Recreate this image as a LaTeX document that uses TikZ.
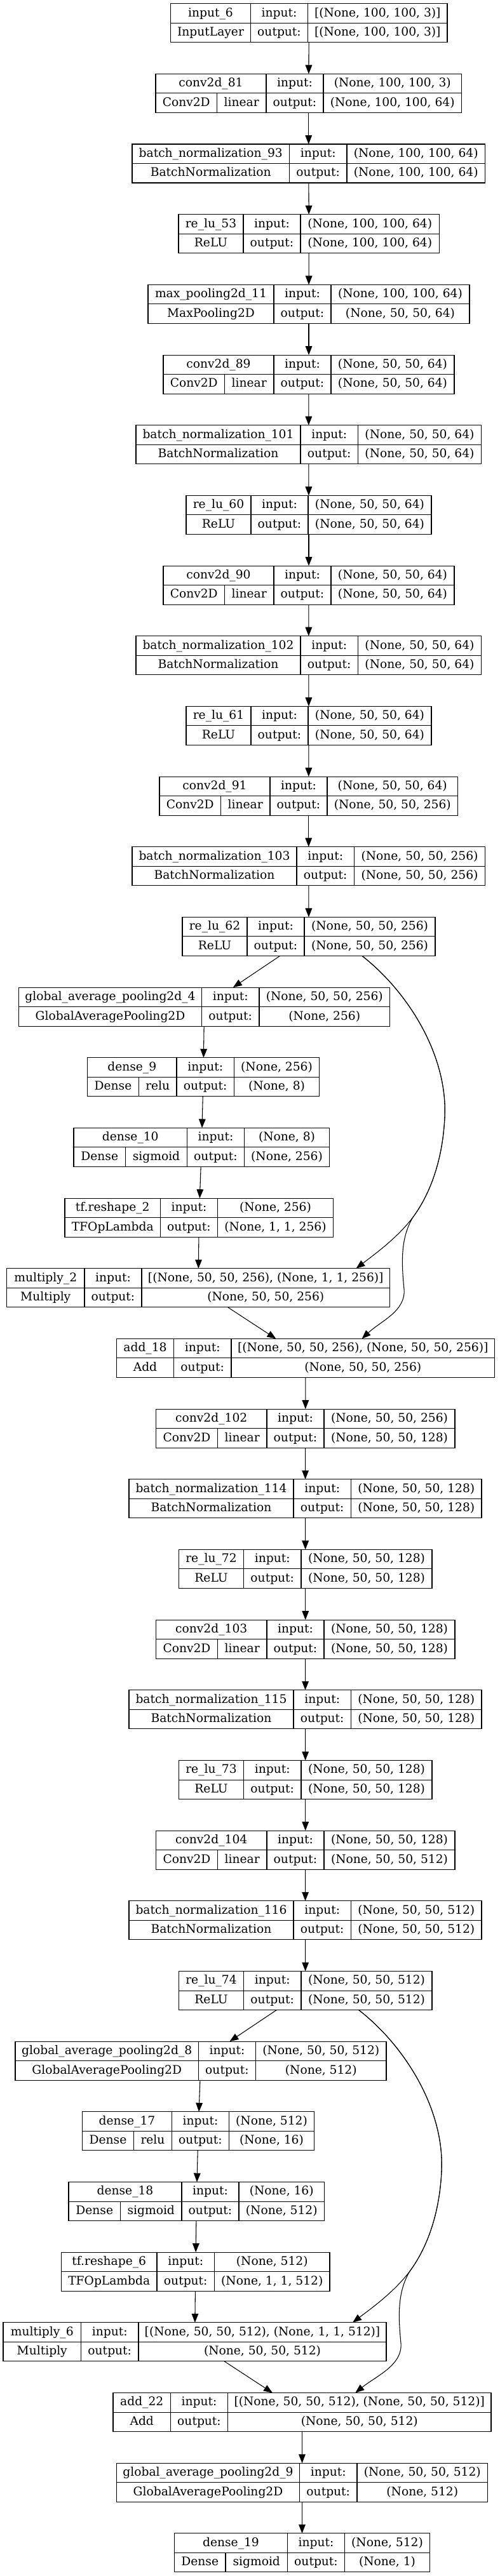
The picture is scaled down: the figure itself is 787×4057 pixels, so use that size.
\documentclass[tikz,border=0pt]{standalone}
\usepackage{fontspec}
\setmainfont{DejaVu Serif}
\usetikzlibrary{arrows.meta}

\tikzset{
  box/.style={draw, rectangle, inner sep=0pt, outer sep=0pt, minimum height=45.75pt},
  txt/.style={inner sep=0pt, text height=10.5pt, text depth=2.8pt, font=\fontsize{14}{16}\selectfont},
  link/.style={-{Triangle[length=10.5pt, width=8pt]}},
}

% #1 node, #2 top, #3 left, #4 first bar, #5 second bar, #6 right,
% #7 layer name, #8 layer class, #9 input shape; the output shape follows
\newcommand{\layerbox}[9]{%
  \node[box, minimum width={(#6-#3)*0.75pt}] (#1) at ({(#3+#6)/2},{#2+30.5}) {};
  \draw (#3,{#2+30.5}) -- (#6,{#2+30.5});
  \draw (#4,#2) -- (#4,{#2+61}) (#5,#2) -- (#5,{#2+61});
  \node[txt] (#1-name) at ({(#3+#4)/2},{#2+15.25}) {#7};
  \if\relax\detokenize{#8}\relax\else
    \node[txt] (#1-class) at ({(#3+#4)/2},{#2+45.75}) {#8};
  \fi
  \node[txt] (#1-in) at ({(#4+#5)/2},{#2+15.25}) {input:};
  \node[txt] (#1-out) at ({(#4+#5)/2},{#2+45.75}) {output:};
  \node[txt] (#1-inshape) at ({(#5+#6)/2},{#2+15.25}) {#9};
  \layerout{#1}{(#5+#6)/2}{#2+45.75}}
\newcommand{\layerout}[4]{\node[txt] (#1-outshape) at ({#2},{#3}) {#4};}
% class cell split in two: #4 split, #5 first bar, #6 class, #7 activation
\newcommand{\layeract}[7]{%
  \draw (#4,{#2+30.5}) -- (#4,{#2+61});
  \node[txt] (#1-class) at ({(#3+#4)/2},{#2+45.75}) {#6};
  \node[txt] (#1-act) at ({(#4+#5)/2},{#2+45.75}) {#7};}

\begin{document}
\begin{tikzpicture}[x=0.75pt, y=-0.75pt, line width=0.8pt]
  \path[use as bounding box, fill=white] (0,0) rectangle (787,4057);
  % Stem
  \layerbox{in6}{5.7}{268.5}{394.5}{484.5}{704}{input\_6}{InputLayer}{[(None, 100, 100, 3)]}{[(None, 100, 100, 3)]}
  \layerbox{c81}{116.4}{245}{419}{509}{726.5}{conv2d\_81}{}{(None, 100, 100, 3)}{(None, 100, 100, 64)}
  \layeract{c81}{116.4}{245}{341.5}{419}{Conv2D}{linear}
  \layerbox{bn93}{227}{208}{455.5}{546}{763.5}{batch\_normalization\_93}{BatchNormalization}{(None, 100, 100, 64)}{(None, 100, 100, 64)}
  \layerbox{re53}{337.7}{281}{383}{473}{691.5}{re\_lu\_53}{ReLU}{(None, 100, 100, 64)}{(None, 100, 100, 64)}
  \layerbox{mp11}{448.4}{233}{431}{521}{739}{max\_pooling2d\_11}{MaxPooling2D}{(None, 100, 100, 64)}{(None, 50, 50, 64)}
  % First block
  \layerbox{c89}{559.1}{257}{431}{521}{715}{conv2d\_89}{}{(None, 50, 50, 64)}{(None, 50, 50, 64)}
  \layeract{c89}{559.1}{257}{353.5}{431}{Conv2D}{linear}
  \layerbox{bn101}{669.7}{214}{473}{563.5}{757.5}{batch\_normalization\_101}{BatchNormalization}{(None, 50, 50, 64)}{(None, 50, 50, 64)}
  \layerbox{re60}{780.4}{293}{395}{485}{679}{re\_lu\_60}{ReLU}{(None, 50, 50, 64)}{(None, 50, 50, 64)}
  \layerbox{c90}{891.1}{257}{431}{521}{715}{conv2d\_90}{}{(None, 50, 50, 64)}{(None, 50, 50, 64)}
  \layeract{c90}{891.1}{257}{353.5}{431}{Conv2D}{linear}
  \layerbox{bn102}{1001.7}{214}{473}{563.5}{757.5}{batch\_normalization\_102}{BatchNormalization}{(None, 50, 50, 64)}{(None, 50, 50, 64)}
  \layerbox{re61}{1112.4}{293}{395}{485}{679}{re\_lu\_61}{ReLU}{(None, 50, 50, 64)}{(None, 50, 50, 64)}
  \layerbox{c91}{1223.1}{251}{425}{515}{720.5}{conv2d\_91}{}{(None, 50, 50, 64)}{(None, 50, 50, 256)}
  \layeract{c91}{1223.1}{251}{347.5}{425}{Conv2D}{linear}
  \layerbox{bn103}{1333.7}{208}{467}{557.5}{763.5}{batch\_normalization\_103}{BatchNormalization}{(None, 50, 50, 256)}{(None, 50, 50, 256)}
  \layerbox{re62}{1444.4}{287}{389}{479}{685}{re\_lu\_62}{ReLU}{(None, 50, 50, 256)}{(None, 50, 50, 256)}
  % Squeeze and excitation
  \layerbox{gap4}{1555.1}{29.5}{317.5}{408}{613.5}{global\_average\_pooling2d\_4}{GlobalAveragePooling2D}{(None, 50, 50, 256)}{(None, 256)}
  \layerbox{d9}{1665.8}{137.5}{278}{368.5}{502.5}{dense\_9}{}{(None, 256)}{(None, 8)}
  \layeract{d9}{1665.8}{137.5}{218.5}{278}{Dense}{relu}
  \layerbox{d10}{1776.4}{116}{294.5}{384.5}{518.5}{dense\_10}{}{(None, 8)}{(None, 256)}
  \layeract{d10}{1776.4}{116}{197.5}{294.5}{Dense}{sigmoid}
  \layerbox{rs2}{1887.1}{102}{252.5}{342.5}{524.5}{tf.reshape\_2}{TFOpLambda}{(None, 256)}{(None, 1, 1, 256)}
  \layerbox{mul2}{1997.8}{10.5}{133}{223}{613.5}{multiply\_2}{Multiply}{[(None, 50, 50, 256), (None, 1, 1, 256)]}{(None, 50, 50, 256)}
  \layerbox{add18}{2108.4}{183.5}{273.5}{364}{778.5}{add\_18}{Add}{[(None, 50, 50, 256), (None, 50, 50, 256)]}{(None, 50, 50, 256)}
  % Second block
  \layerbox{c102}{2219.1}{245.5}{420}{510}{716}{conv2d\_102}{}{(None, 50, 50, 256)}{(None, 50, 50, 128)}
  \layeract{c102}{2219.1}{245.5}{342.5}{420}{Conv2D}{linear}
  \layerbox{bn114}{2329.8}{203}{462}{552.5}{758}{batch\_normalization\_114}{BatchNormalization}{(None, 50, 50, 128)}{(None, 50, 50, 128)}
  \layerbox{re72}{2440.4}{281.5}{383.5}{474}{680}{re\_lu\_72}{ReLU}{(None, 50, 50, 128)}{(None, 50, 50, 128)}
  \layerbox{c103}{2551.1}{245.5}{420}{510}{716}{conv2d\_103}{}{(None, 50, 50, 128)}{(None, 50, 50, 128)}
  \layeract{c103}{2551.1}{245.5}{342.5}{420}{Conv2D}{linear}
  \layerbox{bn115}{2661.8}{203}{462}{552.5}{758}{batch\_normalization\_115}{BatchNormalization}{(None, 50, 50, 128)}{(None, 50, 50, 128)}
  \layerbox{re73}{2772.5}{281.5}{383.5}{474}{680}{re\_lu\_73}{ReLU}{(None, 50, 50, 128)}{(None, 50, 50, 128)}
  \layerbox{c104}{2883.1}{245.5}{420}{510}{716}{conv2d\_104}{}{(None, 50, 50, 128)}{(None, 50, 50, 512)}
  \layeract{c104}{2883.1}{245.5}{342.5}{420}{Conv2D}{linear}
  \layerbox{bn116}{2993.8}{203}{462}{552.5}{758}{batch\_normalization\_116}{BatchNormalization}{(None, 50, 50, 512)}{(None, 50, 50, 512)}
  \layerbox{re74}{3104.5}{281.5}{383.5}{474}{680}{re\_lu\_74}{ReLU}{(None, 50, 50, 512)}{(None, 50, 50, 512)}
  \layerbox{gap8}{3215.1}{24}{312.5}{402.5}{608}{global\_average\_pooling2d\_8}{GlobalAveragePooling2D}{(None, 50, 50, 512)}{(None, 512)}
  \layerbox{d17}{3325.8}{129.5}{270.5}{360.5}{494.5}{dense\_17}{}{(None, 512)}{(None, 16)}
  \layeract{d17}{3325.8}{129.5}{210.5}{270.5}{Dense}{relu}
  \layerbox{d18}{3436.5}{108}{286}{376}{510.5}{dense\_18}{}{(None, 16)}{(None, 512)}
  \layeract{d18}{3436.5}{108}{189.5}{286}{Dense}{sigmoid}
  \layerbox{rs6}{3547.1}{96.5}{247}{337.5}{519}{tf.reshape\_6}{TFOpLambda}{(None, 512)}{(None, 1, 1, 512)}
  \layerbox{mul6}{3657.8}{5}{127.5}{218}{608}{multiply\_6}{Multiply}{[(None, 50, 50, 512), (None, 1, 1, 512)]}{(None, 50, 50, 512)}
  \layerbox{add22}{3768.5}{178}{268.5}{358.5}{773}{add\_22}{Add}{[(None, 50, 50, 512), (None, 50, 50, 512)]}{(None, 50, 50, 512)}
  % Head
  \layerbox{gap9}{3879.2}{183.5}{471.5}{562}{767.5}{global\_average\_pooling2d\_9}{GlobalAveragePooling2D}{(None, 50, 50, 512)}{(None, 512)}
  \layerbox{d19}{3989.8}{274.5}{452.5}{542.5}{676.5}{dense\_19}{}{(None, 512)}{(None, 1)}
  \layeract{d19}{3989.8}{274.5}{355}{452.5}{Dense}{sigmoid}
  % Straight edges
  \foreach \a/\b in {in6/c81, c81/bn93, bn93/re53, re53/mp11, mp11/c89, c89/bn101,
      bn101/re60, re60/c90, c90/bn102, bn102/re61, re61/c91, c91/bn103, bn103/re62,
      re62/gap4, gap4/d9, d9/d10, d10/rs2, rs2/mul2, mul2/add18, add18/c102,
      c102/bn114, bn114/re72, re72/c103, c103/bn115, bn115/re73, re73/c104,
      c104/bn116, bn116/re74, re74/gap8, gap8/d17, d17/d18, d18/rs6, rs6/mul6,
      mul6/add22, add22/gap9, gap9/d19}
    \draw[link] (\a) -- (\b);
  % Skip edges
  \draw[link] (re62.-20) .. controls (640,1560) and (705,1660) .. (700,1760)
    .. controls (696,1840) and (670,1890) .. (650,1917)
    .. controls (625,1950) and (590,1975) .. (mul2.7.6);
  \draw[link] (re62.-20) .. controls (640,1560) and (705,1660) .. (700,1760)
    .. controls (696,1840) and (670,1890) .. (650,1917)
    .. controls (630,1950) and (632,1990) .. (636,2030)
    .. controls (639,2065) and (600,2080) .. (add18.19);
  \draw[link] (re74.-20) .. controls (635,3220) and (700,3320) .. (695,3420)
    .. controls (691,3500) and (665,3550) .. (645,3577)
    .. controls (620,3610) and (585,3635) .. (mul6.7.8);
  \draw[link] (re74.-20) .. controls (635,3220) and (700,3320) .. (695,3420)
    .. controls (691,3500) and (665,3550) .. (645,3577)
    .. controls (625,3610) and (627,3650) .. (631,3690)
    .. controls (634,3725) and (592,3742) .. (add22.20);
\end{tikzpicture}
\end{document}
